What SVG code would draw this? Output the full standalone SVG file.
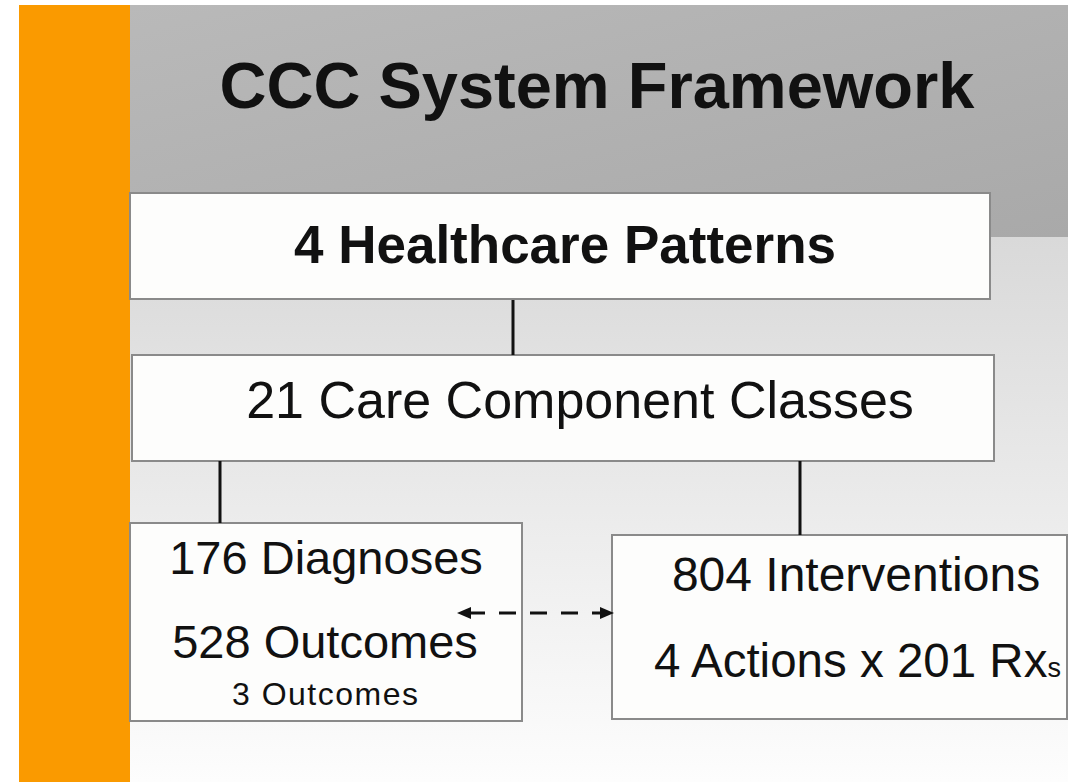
<svg xmlns="http://www.w3.org/2000/svg" width="1068" height="782" viewBox="0 0 1068 782">
  <defs>
    <linearGradient id="hdr" x1="0" y1="0" x2="1" y2="1">
      <stop offset="0" stop-color="#b9b9b9"/>
      <stop offset="1" stop-color="#a9a9a9"/>
    </linearGradient>
    <linearGradient id="body" x1="0" y1="0" x2="0" y2="1">
      <stop offset="0" stop-color="#d9d9d9"/>
      <stop offset="1" stop-color="#fdfdfd"/>
    </linearGradient>
    <marker id="ah" viewBox="0 0 14 12" refX="13" refY="6" markerWidth="14" markerHeight="12" markerUnits="userSpaceOnUse" orient="auto-start-reverse">
      <path d="M0,0 L14,6 L0,12 Z" fill="#111"/>
    </marker>
    <style>
      .box { fill: #fdfdfc; stroke: #8a8a8a; stroke-width: 2; }
      .t { font-family: "Liberation Sans", Arial, sans-serif; fill: #111; text-anchor: middle; }
      .b { font-weight: bold; }
      .conn { stroke: #111; stroke-width: 3; fill: none; }
    </style>
  </defs>
  <rect x="0" y="0" width="1068" height="782" fill="#ffffff"/>
  <rect x="130" y="237" width="938" height="545" fill="url(#body)"/>
  <rect x="130" y="5" width="938" height="232" fill="url(#hdr)"/>
  <rect x="19" y="5" width="111" height="777" fill="#fa9a00"/>

  <g id="title">
    <text class="t b" x="597" y="108" font-size="65">CCC System Framework</text>
  </g>

  <g id="patterns">
    <rect class="box" x="130" y="193" width="860" height="106"/>
    <text class="t b" x="565" y="263" font-size="53">4 Healthcare Patterns</text>
  </g>

  <g id="classes">
    <rect class="box" x="132" y="355" width="862" height="106"/>
    <text class="t" x="580" y="418" font-size="52">21 Care Component Classes</text>
  </g>

  <g id="diagnoses">
    <rect class="box" x="130" y="523" width="392" height="198"/>
    <text class="t" x="326" y="574" font-size="47">176 Diagnoses</text>
    <text class="t" x="325" y="658" font-size="47">528 Outcomes</text>
    <text class="t" x="325" y="705" font-size="32" textLength="186" lengthAdjust="spacing">3 Outcomes</text>
  </g>

  <g id="interventions">
    <rect class="box" x="612" y="535" width="455" height="184"/>
    <text class="t" x="856" y="591" font-size="48">804 Interventions</text>
    <text class="t" x="654" y="677" font-size="47.5" style="text-anchor:start">4 Actions x 201 Rx<tspan font-size="27">s</tspan></text>
  </g>

  <g id="connectors">
    <line class="conn" x1="513" y1="300" x2="513" y2="355"/>
    <line class="conn" x1="220" y1="461" x2="220" y2="523"/>
    <line class="conn" x1="800" y1="461" x2="800" y2="535"/>
    <line class="conn" x1="458" y1="613" x2="613" y2="613" stroke-dasharray="17 14" stroke-dashoffset="-10" marker-start="url(#ah)" marker-end="url(#ah)"/>
  </g>
</svg>
